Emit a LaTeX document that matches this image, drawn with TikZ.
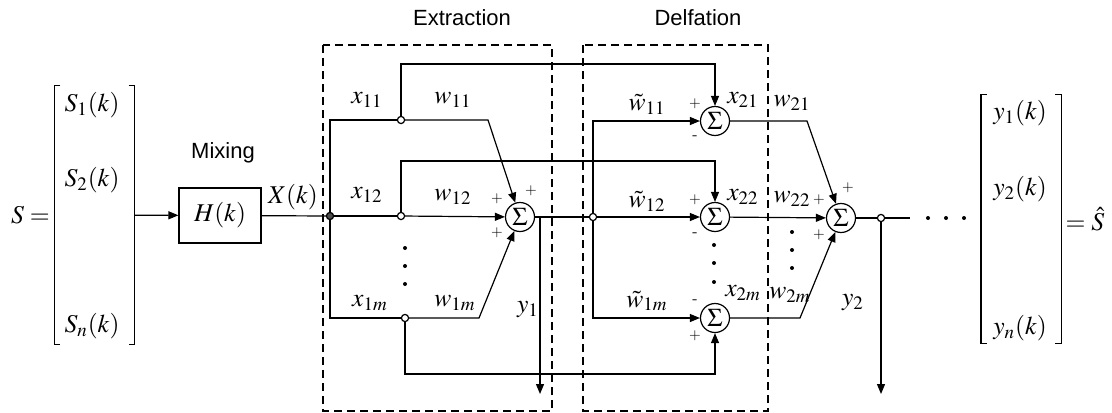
\documentclass[tikz,border=0pt]{standalone}
\usepackage{mathptmx}
\usepackage[no-math]{fontspec}
\newfontfamily\sansrot{Liberation Sans}
\usetikzlibrary{positioning, arrows.meta}

\begin{document}
\begin{tikzpicture}[
    x=0.5pt, y=-0.5pt,
    line width=0.6pt,
    >={Triangle[length=5pt, width=4pt]},
    font=\fontsize{12.8}{15}\selectfont,
    inner sep=1pt,
    soma/.style={circle, draw, minimum size=14.5pt, inner sep=0pt},
    bloco/.style={draw, minimum width=41pt, minimum height=27.5pt, inner sep=0pt},
    ramo/.style={circle, draw, fill=white, minimum size=3.6pt, inner sep=0pt},
    ponto/.style={circle, fill, minimum size=2pt, inner sep=0pt},
    sinal/.style={font=\fontsize{7.5}{8}\selectfont, inner sep=0pt},
    caixa/.style={dash pattern=on 4pt off 2.5pt},
    vetor/.style={minimum width=39.5pt, inner sep=0pt},
    titulo/.style={font=\sansrot\fontsize{11}{13}\selectfont}
]
    \useasboundingbox (0,0) rectangle (1112,412);

    % Caixas
    \draw[caixa] (323,45) rectangle (552,411);
    \draw[caixa] (583,45) rectangle (768,411);
    \node[titulo] (textr) at (462,18) {Extraction};
    \node[titulo] (tdefl) at (698,18) {Delfation};

    % Entrada
    \node[vetor, minimum height=129pt] (Svec) at (94.5,215) {};
    \draw ([xshift=3pt]Svec.north west) -- (Svec.north west) -- (Svec.south west) -- ([xshift=3pt]Svec.south west);
    \draw ([xshift=-3pt]Svec.north east) -- (Svec.north east) -- (Svec.south east) -- ([xshift=-3pt]Svec.south east);
    \node (S1) at (92,105) {$S_1(k)$};
    \node (S2) at (92,180) {$S_2(k)$};
    \node (Sn) at (92,326) {$S_n(k)$};
    \node[left=1pt of Svec] (Seq) {$S=$};

    \node[bloco] (H) at (220,215.5) {$H(k)$};
    \node[titulo] (tmix) at (223,153) {Mixing};
    \node (X) at (293,197) {$X(k)$};

    % Somadores
    \node[soma] (s1) at (520,217) {$\Sigma$};
    \node[soma] (s21) at (715,121) {$\Sigma$};
    \node[soma] (s22) at (715,217) {$\Sigma$};
    \node[soma] (s2m) at (715,318) {$\Sigma$};
    \node[soma] (s3) at (841,218) {$\Sigma$};

    % Ramos
    \node[ramo, fill=black!70] (j0) at (330,216) {};
    \node[ramo] (b11) at (401,120) {};
    \node[ramo] (b12) at (401,216) {};
    \node[ramo] (b1m) at (405,318) {};
    \node[ramo] (j1) at (593,217) {};
    \node[ramo] (j2) at (881,218) {};

    \coordinate (c11) at (488,120);
    \coordinate (c1m) at (479,318);
    \coordinate (u1) at (401,64);
    \coordinate (u2) at (401,161);
    \coordinate (u3) at (405,374);
    \coordinate (d1) at (540,217);
    \coordinate (e1) at (540,394);
    \coordinate (c21) at (807,121);
    \coordinate (c2m) at (800,318);
    \coordinate (f2) at (910,218);
    \coordinate (e2) at (881,394);

    % Arestas
    \draw[->] (Svec) -- (H);
    \draw (H) -- (j0);
    \draw (b11) -| (j0) |- (b1m);
    \draw (j0) -- (b12);

    \draw[->] (b11) -- (c11) -- (s1);
    \draw[->] (b12) -- (s1);
    \draw[->] (b1m) -- (c1m) -- (s1);

    \draw[->] (b11) -- (u1) -| (s21);
    \draw[->] (b12) -- (u2) -| (s22);
    \draw[->] (b1m) -- (u3) -| (s2m);

    \draw (s1) -- (j1);
    \draw[->] (d1) -- (e1);
    \draw[->] (j1) |- (s21);
    \draw[->] (j1) -- (s22);
    \draw[->] (j1) |- (s2m);

    \draw[->] (s21) -- (c21) -- (s3);
    \draw[->] (s22) -- (s3);
    \draw[->] (s2m) -- (c2m) -- (s3);

    \draw (s3) -- (j2) -- (f2);
    \draw[->] (j2) -- (e2);

    % Rotulos
    \node (lx11) at (367,100) {$x_{11}$};
    \node (lx12) at (367,195) {$x_{12}$};
    \node (lx1m) at (370,303) {$x_{1m}$};
    \node (lw11) at (453,100) {$w_{11}$};
    \node (lw12) at (453,197) {$w_{12}$};
    \node (lw1m) at (455,303) {$w_{1m}$};
    \node (ly1) at (528,310) {$y_1$};
    \node (lv11) at (647,104) {$\tilde{w}_{11}$};
    \node (lv12) at (647,201) {$\tilde{w}_{12}$};
    \node (lv1m) at (647,301) {$\tilde{w}_{1m}$};
    \node (lx21) at (743,100) {$x_{21}$};
    \node (lx22) at (743,197) {$x_{22}$};
    \node (lx2m) at (743,293) {$x_{2m}$};
    \node (lw21) at (792,103) {$w_{21}$};
    \node (lw22) at (792,199) {$w_{22}$};
    \node (lw2m) at (790,295) {$w_{2m}$};
    \node (ly2) at (853,303) {$y_2$};

    % Sinais
    \node[sinal] at (531,191) {$+$};
    \node[sinal] at (497,199) {$+$};
    \node[sinal] at (497,233) {$+$};
    \node[sinal] at (695,104) {$+$};
    \node[sinal] at (695,138) {-};
    \node[sinal] at (695,200) {$+$};
    \node[sinal] at (695,235) {-};
    \node[sinal] at (695,302) {-};
    \node[sinal] at (695,336) {$+$};
    \node[sinal] at (848,188) {$+$};
    \node[sinal] at (819,200) {$+$};
    \node[sinal] at (819,235) {$+$};

    % Pontos
    \foreach \yy in {248,266,284} \node[ponto] at (405,\yy) {};
    \foreach \yy in {245,263,282} \node[ponto] at (714,\yy) {};
    \foreach \yy in {232,250,268} \node[ponto] at (792,\yy) {};
    \foreach \xx in {928,946,964} \node[ponto] at (\xx,218) {};

    % Saida
    \node[vetor, minimum height=124pt] (Yvec) at (1021,219) {};
    \draw ([xshift=3pt]Yvec.north west) -- (Yvec.north west) -- (Yvec.south west) -- ([xshift=3pt]Yvec.south west);
    \draw ([xshift=-3pt]Yvec.north east) -- (Yvec.north east) -- (Yvec.south east) -- ([xshift=-3pt]Yvec.south east);
    \node (Y1) at (1020,113) {$y_1(k)$};
    \node (Y2) at (1020,189) {$y_2(k)$};
    \node (Yn) at (1020,328) {$y_n(k)$};
    \node[right=1pt of Yvec] (Yeq) {$=\hat{S}$};
\end{tikzpicture}
\end{document}
